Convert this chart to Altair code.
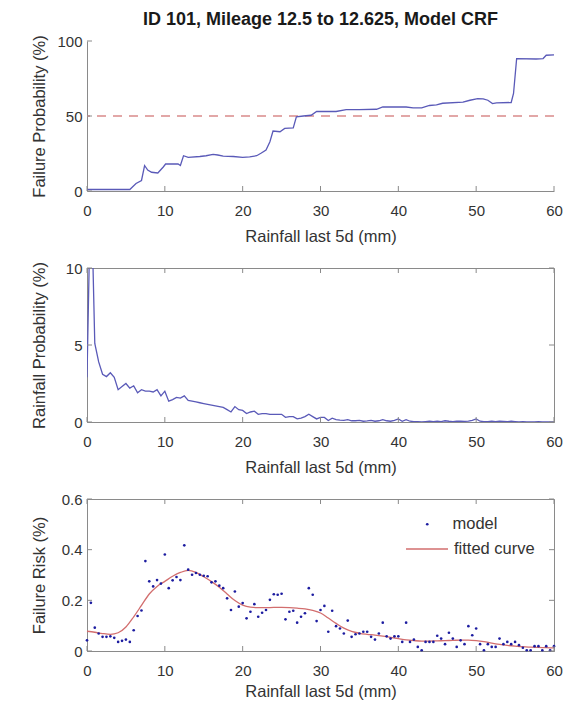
import altair as alt
import pandas as pd

FONT = "Liberation Sans"
TITLE = "ID 101, Mileage 12.5 to 12.625, Model CRF"
X_TITLE = "Rainfall last 5d (mm)"

x_ticks = [0, 10, 20, 30, 40, 50, 60]
top_y_ticks = [0, 50, 100]
mid_y_ticks = [0, 5, 10]
bot_y_ticks = [0, 0.2, 0.4, 0.6]
threshold = [50]

# Top: failure probability (%)
fp_x = [0, 5.5, 6.3, 7.0, 7.4, 7.8, 8.3, 9.1, 9.8, 10.1, 11.7, 12.0, 12.4, 13, 14.5, 15.3,
        16.2, 16.8, 17.5, 18.8, 20, 20.9, 21.8, 22.4, 23, 23.5, 23.9, 24.8, 25.4, 26.5,
        26.9, 27.8, 28.8, 29.5, 30.7, 32, 33.3, 35, 37.2, 38, 41, 41.9, 43, 44, 44.9,
        45.7, 48.3, 49.2, 50.2, 50.9, 51.5, 52.1, 52.6, 54.5, 54.8, 55.2, 57.7, 58.6, 59, 60]
fp_y = [1, 1, 5, 7, 17, 14, 12.5, 12, 16, 18, 18, 17, 23.5, 22.4, 23, 23.5,
        24.4, 24, 23.3, 23, 22.4, 22.8, 23.5, 25.3, 27.3, 32.8, 40, 39.5, 41.7, 42,
        49.4, 50, 50.5, 53, 53, 53, 54.3, 54.3, 54.5, 56, 56, 55.4, 55.4, 57, 57.4,
        58.5, 59.2, 60.5, 61.6, 61.4, 60.5, 58.3, 58.8, 59, 65, 88.2, 88, 88.3, 90.5, 90.7]

# Middle / bottom: rainfall grid 0..60 step 0.5
grid_x = [i * 0.5 for i in range(121)]
rp_y = [2.9, 16, 5.1, 3.9, 3.1, 2.95, 3.2, 2.9, 2.1, 2.3,
        2.5, 2.2, 2.35, 1.9, 2.1, 2.0, 2.0, 1.95, 2.1, 1.7,
        2.0, 1.35, 1.45, 1.6, 1.55, 1.7, 1.4, 1.35, 1.3, 1.25,
        1.2, 1.15, 1.1, 1.05, 1.0, 0.95, 0.8, 0.65, 1.0, 0.8,
        0.75, 0.55, 0.65, 0.7, 0.5, 0.55, 0.55, 0.5, 0.5, 0.5,
        0.5, 0.3, 0.35, 0.35, 0.2, 0.25, 0.35, 0.5, 0.35, 0.2,
        0.3, 0.3, 0.1, 0.25, 0.15, 0.12, 0.1, 0.15, 0.08, 0.08,
        0.1, 0.05, 0.07, 0.1, 0.05, 0.08, 0.15, 0.08, 0.05, 0.1,
        0.2, 0.05, 0.15, 0.05, 0.03, 0.02, 0.0, 0.03, 0.05, 0.02,
        0.05, 0.03, 0.08, 0.05, 0.03, 0.06, 0.05, 0.04, 0.06, 0.1,
        0.2, 0.05, 0.03, 0.02, 0.05, 0.03, 0.06, 0.04, 0.02, 0.05,
        0.03, 0.01, 0.02, 0.0, 0.01, 0.0, 0.02, 0.0, 0.0, 0.0, 0.0]

risk_y = [0.042, 0.19, 0.092, 0.069, 0.056, 0.056, 0.058, 0.052, 0.036, 0.04,
          0.045, 0.036, 0.082, 0.138, 0.16, 0.355, 0.275, 0.255, 0.28, 0.266,
          0.381, 0.248, 0.279, 0.292, 0.28, 0.417, 0.321, 0.301, 0.308, 0.301,
          0.297, 0.295, 0.271, 0.275, 0.258, 0.248, 0.208, 0.162, 0.235, 0.175,
          0.189, 0.129, 0.155, 0.185, 0.135, 0.151, 0.162, 0.202, 0.224, 0.222,
          0.226, 0.125, 0.155, 0.159, 0.112, 0.135, 0.149, 0.248, 0.222, 0.118,
          0.162, 0.178, 0.076, 0.159, 0.098, 0.089, 0.069, 0.12, 0.056, 0.066,
          0.069, 0.076, 0.076, 0.056, 0.045, 0.069, 0.112, 0.058, 0.049, 0.058,
          0.058, 0.036, 0.112, 0.036, 0.045, 0.016, 0.003, 0.036, 0.036, 0.036,
          0.06, 0.049, 0.027, 0.072, 0.049, 0.016, 0.042, 0.027, 0.098, 0.062,
          0.089, 0.027, 0.003, 0.027, 0.016, 0.016, 0.049, 0.027, 0.036, 0.027,
          0.036, 0.023, 0.013, 0.003, 0.003, 0.019, 0.019, 0.003, 0.019, 0.003, 0.019]

fit_x = list(range(61))
fit_y = [0.078, 0.074, 0.069, 0.066, 0.072, 0.095, 0.135, 0.18, 0.225, 0.255,
         0.275, 0.295, 0.31, 0.318, 0.31, 0.293, 0.274, 0.252, 0.225, 0.199,
         0.181, 0.173, 0.171, 0.171, 0.172, 0.172, 0.171, 0.169, 0.166, 0.16,
         0.15, 0.13, 0.109, 0.09, 0.077, 0.07, 0.066, 0.063, 0.059, 0.054,
         0.049, 0.044, 0.041, 0.039, 0.039, 0.04, 0.041, 0.042, 0.043, 0.043,
         0.041, 0.037, 0.031, 0.026, 0.022, 0.019, 0.017, 0.015, 0.014, 0.013, 0.012]

W = 467
H_TOP, H_MID, H_BOT = 150, 154, 152
AX = "#8a8a8a"
TXT = "#333333"
BLUE = "#5a5ab8"
RED = "#d26e6e"

xscale = alt.Scale(domain=[0, 60], nice=False)


def x_axis(tp):
    return alt.Axis(values=x_ticks, title=X_TITLE, titlePadding=tp, labelPadding=12)


def y_axis(vals, title):
    return alt.Axis(values=vals, title=title, labelPadding=5, titlePadding=8,
                    minExtent=32, maxExtent=32,
                    labelExpr="datum.value == 0 ? '0' : format(datum.value, '~g')")


def ticks(yvals, h, box):
    xt = pd.DataFrame({"x": x_ticks})
    yt = pd.DataFrame({"y": yvals})
    layers = [
        alt.Chart(xt).mark_rule(color=AX, strokeWidth=1).encode(
            x=alt.X("x:Q", scale=xscale), y=alt.value(h), y2=alt.value(h - 5)),
        alt.Chart(yt).mark_rule(color=AX, strokeWidth=1).encode(
            y="y:Q", x=alt.value(0), x2=alt.value(5)),
    ]
    if box:
        layers += [
            alt.Chart(xt).mark_rule(color=AX, strokeWidth=1).encode(
                x=alt.X("x:Q", scale=xscale), y=alt.value(0), y2=alt.value(5)),
            alt.Chart(yt).mark_rule(color=AX, strokeWidth=1).encode(
                y="y:Q", x=alt.value(W), x2=alt.value(W - 5)),
        ]
    return layers


# ---- Top panel
top_df = pd.DataFrame({"x": fp_x, "y": fp_y})
top_line = alt.Chart(top_df).mark_line(color=BLUE, strokeWidth=1.3).encode(
    x=alt.X("x:Q", scale=xscale, axis=x_axis(10)),
    y=alt.Y("y:Q", scale=alt.Scale(domain=[0, 100], nice=False),
            axis=y_axis(top_y_ticks, "Failure Probability (%)")),
)
thr = alt.Chart(pd.DataFrame({"y": threshold})).mark_rule(
    color="#d98a8a", strokeDash=[9, 7], strokeWidth=1.3).encode(y="y:Q")
top = alt.layer(thr, top_line, *ticks(top_y_ticks, H_TOP, False)).properties(
    width=W, height=H_TOP,
    title=alt.TitleParams(TITLE, fontSize=18, fontWeight="bold", font=FONT,
                          anchor="middle", frame="group", offset=5, color="#1a1a1a"),
)

# ---- Middle panel
mid_df = pd.DataFrame({"x": grid_x, "y": rp_y})
mid_line = alt.Chart(mid_df).mark_line(color=BLUE, strokeWidth=1.3, clip=True).encode(
    x=alt.X("x:Q", scale=xscale, axis=x_axis(10)),
    y=alt.Y("y:Q", scale=alt.Scale(domain=[0, 10], nice=False),
            axis=y_axis(mid_y_ticks, "Rainfall Probability (%)")),
)
mid = alt.layer(mid_line, *ticks(mid_y_ticks, H_MID, True)).properties(
    width=W, height=H_MID, view=alt.ViewBackground(stroke=AX, strokeWidth=1))

# ---- Bottom panel
pts_df = pd.DataFrame({"x": grid_x, "y": risk_y, "s": ["model"] * len(grid_x)})
fit_df = pd.DataFrame({"x": fit_x, "y": fit_y, "s": ["fitted curve"] * len(fit_x)})
ybot = alt.Scale(domain=[0, 0.6], nice=False)
fit_line = alt.Chart(fit_df).mark_line(strokeWidth=1.3, interpolate="monotone").encode(
    x=alt.X("x:Q", scale=xscale, axis=x_axis(5)),
    y=alt.Y("y:Q", scale=ybot, axis=y_axis(bot_y_ticks, "Failure Risk (%)")),
    stroke=alt.Stroke("s:N", scale=alt.Scale(domain=["fitted curve"], range=[RED]),
                      legend=alt.Legend(orient="none", legendX=318, legendY=28, title=None,
                                        symbolType="stroke", symbolSize=1764,
                                        symbolStrokeWidth=1.3, labelOffset=5,
                                        labelFontSize=16.5, labelFont=FONT,
                                        labelColor=TXT, padding=0)),
)
pts = alt.Chart(pts_df).mark_point(filled=True, size=7, opacity=1, color="#1c1ca0").encode(
    x=alt.X("x:Q", scale=xscale),
    y=alt.Y("y:Q", scale=ybot),
    shape=alt.Shape("s:N", scale=alt.Scale(domain=["model"], range=["circle"]),
                    legend=alt.Legend(orient="none", legendX=332, legendY=17, title=None,
                                      symbolSize=7, symbolFillColor="#1c1ca0",
                                      symbolStrokeWidth=0, labelOffset=17,
                                      labelFontSize=16.5, labelFont=FONT,
                                      labelColor=TXT, padding=0)),
)
bot = alt.layer(fit_line, pts, *ticks(bot_y_ticks, H_BOT, True)).properties(
    width=W, height=H_BOT, view=alt.ViewBackground(stroke=AX, strokeWidth=1))

chart = alt.vconcat(top, mid, bot, spacing=15).resolve_legend(
    shape="independent", stroke="independent"
).properties(
    padding={"left": 22, "top": 3, "right": 5, "bottom": 0},
    background="white",
).configure_view(stroke=None).configure_axis(
    grid=False, tickSize=0, domainColor=AX, domainWidth=1,
    labelFont=FONT, titleFont=FONT, labelFontSize=15, titleFontSize=16.5,
    labelColor=TXT, titleColor=TXT, titleFontWeight="normal",
).configure_axisX(labelFlush=False)

chart.save("out.html", embed_options={"renderer": "svg", "actions": False})
